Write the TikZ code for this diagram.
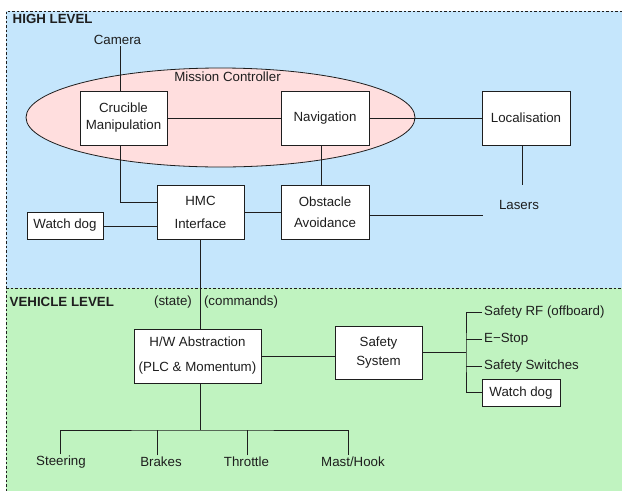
\documentclass[tikz,border=0pt]{standalone}
\usepackage{fontspec}
\setmainfont{Liberation Sans}
\definecolor{hibg}{RGB}{197,230,252}
\definecolor{vebg}{RGB}{192,243,192}
\definecolor{mcpink}{RGB}{255,222,222}
\definecolor{ink}{RGB}{30,30,30}
\begin{document}
\begin{tikzpicture}[x=1pt,y=-1pt,
  every node/.style={font=\fontsize{13.3}{16}\selectfont, text=ink},
  box/.style={draw=ink, fill=white, line width=0.8pt, align=center, inner sep=0pt},
  lbl/.style={inner sep=1.5pt},
  wire/.style={line width=0.8pt, draw=ink},
  region/.style={dashed, line width=0.6pt, draw=ink, dash pattern=on 2.5pt off 2pt}]
\useasboundingbox (0,0) rectangle (622,491);
% regions
\fill[hibg] (6,11) rectangle (622,288);
\fill[vebg] (6,288) rectangle (622,491);
\draw[region] (622,11) -- (6,11) -- (6,491);
\draw[region] (6,288) -- (622,288);
\node[anchor=west, inner sep=0pt, font=\fontsize{13.3}{16}\selectfont\bfseries] (hl) at (12.5,19) {HIGH LEVEL};
\node[anchor=west, inner sep=0pt, font=\fontsize{13.3}{16}\selectfont\bfseries] (vl) at (9.5,302) {VEHICLE LEVEL};
% mission controller ellipse
\draw[fill=mcpink, draw=ink, line width=0.8pt] (220.5,117.5) ellipse [x radius=194.5, y radius=49.5];
\node (mc) at (227.5,77) {Mission Controller};
% boxes
\node[box, minimum width=87, minimum height=54] (cru) at (123.5,118) {Crucible\\[1pt]Manipulation};
\node[box, minimum width=88, minimum height=54] (nav) at (325,118) {Navigation};
\node[box, minimum width=88, minimum height=54] (loc) at (526,118) {Localisation};
\node[box, minimum width=87, minimum height=54] (hmc) at (200.5,212) {HMC\\[7pt]Interface};
\node[box, minimum width=88, minimum height=54] (obs) at (325,212) {Obstacle\\[5pt]Avoidance};
\node[box, minimum width=76, minimum height=27] (wd1) at (65,225.5) {Watch dog};
\node[box, minimum width=127, minimum height=54] (hw) at (197.5,356) {H/W Abstraction\\[9pt](PLC \& Momentum)};
\node[box, minimum width=87, minimum height=53] (saf) at (378.5,352.5) {Safety\\[3pt]System};
\node[box, minimum width=78, minimum height=27] (wd2) at (521,392.8) {Watch dog};
% labels
\node[lbl] (cam) at (117.5,40) {Camera};
\node[lbl] (las) at (519,205) {Lasers};
\node[lbl] (st) at (173,302) {(state)};
\node[lbl] (cmd) at (241,302) {(commands)};
\node[lbl, anchor=west, inner sep=2pt] (rf) at (482,312.5) {Safety RF (offboard)};
\node[lbl, anchor=west, inner sep=2pt] (es) at (482,339.3) {E{\fontsize{13.3}{16}\selectfont\char"2212}Stop};
\node[lbl, anchor=west, inner sep=2pt] (ss) at (482,366.5) {Safety Switches};
\node[lbl] (steer) at (61,462) {Steering};
\node[lbl] (brk) at (161,462) {Brakes};
\node[lbl] (thr) at (246.5,462) {Throttle};
\node[lbl] (mast) at (353,462) {Mast/Hook};
\coordinate (lasN) at (522.7,185);
\coordinate (lasW) at (483,215);
\coordinate (bus) at (466,352.7);
\coordinate (split) at (200.7,430);
% connectors
\draw[wire] (cam.south -| 120.7,0) -- (cru.north -| 120.7,0);
\draw[wire] (cru.east) -- (nav.west);
\draw[wire] (nav.east) -- (loc.west);
\draw[wire] (loc.south -| lasN) -- (lasN);
\draw[wire] ([yshift=-3pt]obs.east) -- (lasW);
\draw[wire] (nav.south -| 321.7,0) -- (obs.north -| 321.7,0);
\draw[wire] (cru.south -| 120.7,0) |- ([yshift=10pt]hmc.west);
\draw[wire] (hmc.east) -- (obs.west);
\draw[wire] ([yshift=-0.5pt]wd1.east) -- ([yshift=-0.5pt]wd1.east -| hmc.west);
\draw[wire] (hmc.south -| split) -- (hw.north -| split);
\draw[wire] ([yshift=-0.7pt]hw.east) -- ([yshift=-0.7pt]hw.east -| saf.west);
\draw[wire] ([yshift=-0.2pt]saf.east) -- (bus);
\draw[wire] (rf.west) -| (bus) |- (wd2.west);
\draw[wire] (es.west) -- (es.west -| bus);
\draw[wire] (ss.west) -- (ss.west -| bus);
\draw[wire] (hw.south -| split) -- (split);
\draw[wire] ([xshift=-1pt]steer.north) |- (split) -| ([xshift=-4.7pt]mast.north);
\draw[wire] ([xshift=-3.7pt]brk.north) -- ([xshift=-3.7pt]brk.north |- split);
\draw[wire] ([xshift=1.2pt]thr.north) -- ([xshift=1.2pt]thr.north |- split);
\end{tikzpicture}
\end{document}
